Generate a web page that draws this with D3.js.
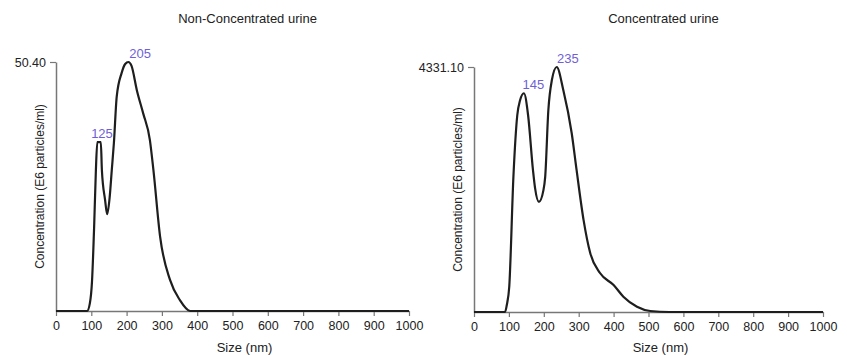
<!DOCTYPE html>
<html>
<head>
<meta charset="utf-8">
<script src="https://cdn.jsdelivr.net/npm/d3@7"></script>
<style>
  body { margin: 0; background: #fff; }
  text { font-family: "Liberation Sans", Arial, Helvetica, sans-serif; }
</style>
</head>
<body>
<div id="chart"></div>
<script>
// Data (size in nm, concentration in E6 particles/ml)
var titles = ["Non-Concentrated urine", "Concentrated urine"];
var yMax = [50.40, 4331.10];
var xTicks = [0, 100, 200, 300, 400, 500, 600, 700, 800, 900, 1000];

var nonConcSize = [0, 88, 96, 102, 108, 113, 117, 127, 130, 139, 145, 152, 158, 164, 172, 186, 196, 205, 214, 229, 247, 266, 276, 295, 323, 351, 380, 1000];
var nonConcValue = [0, 0, 1.6, 6, 17, 28.5, 34.2, 34.2, 28.5, 22.5, 19.6, 23, 28.5, 34, 43.4, 48.2, 50, 50.4, 49.6, 44.7, 40, 34.6, 28.5, 15, 6.3, 2.2, 0, 0];

var concSize = [0, 89, 94, 101, 113, 124, 132, 143, 155, 169, 175, 186, 199, 204, 213, 223, 237, 256, 280, 294, 314, 333, 361, 400, 428, 467, 505, 560, 1000];
var concValue = [0, 0, 124, 447, 2400, 3478, 3743, 3867, 3478, 2507, 2189, 1947, 2154, 2389, 3566, 4096, 4331.1, 3920, 3160, 2507, 1624, 1042, 689, 477, 270, 94, 18, 0, 0];

var nonConcPeaks = [125, 205];
var nonConcPeakValues = [34.2, 50.4];
var concPeaks = [145, 235];
var concPeakValues = [3867, 4331.1];

var width = 847, height = 355;

var svg = d3.select("#chart").append("svg")
  .attr("width", width)
  .attr("height", height);

// Panel layout (pixel boxes of each plot area)
var panels = [
  {left: 56, right: 409, top: 62, bottom: 311, size: nonConcSize, value: nonConcValue,
   peaks: nonConcPeaks, peakValues: nonConcPeakValues, peakDx: [-9, 1]},
  {left: 474, right: 823, top: 67, bottom: 312, size: concSize, value: concValue,
   peaks: concPeaks, peakValues: concPeakValues, peakDx: [-2, 1]}
];

panels.forEach(function(p, i) {
  var g = svg.append("g");

  var x = d3.scaleLinear().domain([0, 1000]).range([p.left, p.right]);
  var y = d3.scaleLinear().domain([0, yMax[i]]).range([p.bottom, p.top]);

  // Title
  g.append("text")
    .attr("x", (p.left + p.right) / 2 + 15)
    .attr("y", 23)
    .attr("text-anchor", "middle")
    .style("font-size", "13px")
    .style("fill", "#222")
    .text(titles[i]);

  // X axis
  var xAxis = g.append("g")
    .attr("transform", "translate(0," + p.bottom + ")")
    .call(d3.axisBottom(x).tickValues(xTicks).tickFormat(d3.format("d")).tickSize(5).tickSizeOuter(0).tickPadding(5));

  // Y axis, only the max tick
  var yAxis = g.append("g")
    .attr("transform", "translate(" + p.left + ",0)")
    .call(d3.axisLeft(y).tickValues([yMax[i]]).tickFormat(d3.format(".2f")).tickSize(6).tickSizeOuter(0).tickPadding(4));

  [xAxis, yAxis].forEach(function(a) {
    a.attr("font-family", null);
    a.select(".domain").attr("stroke", "#777").attr("stroke-width", 1.5);
    a.selectAll(".tick line").attr("stroke", "#777").attr("stroke-width", 1.2);
    a.selectAll(".tick text").style("font-size", "12.5px").style("fill", "#222");
  });

  // Axis labels
  g.append("text")
    .attr("x", (p.left + p.right) / 2 + 12)
    .attr("y", 352)
    .attr("text-anchor", "middle")
    .style("font-size", "13px")
    .style("fill", "#222")
    .text("Size (nm)");

  g.append("text")
    .attr("transform", "translate(" + (p.left - 12) + "," + (p.top + p.bottom) / 2 + ") rotate(-90)")
    .attr("text-anchor", "middle")
    .style("font-size", "12px")
    .style("fill", "#222")
    .text("Concentration (E6 particles/ml)");

  // Distribution curve
  var line = d3.line()
    .x(function(d, k) { return x(p.size[k]); })
    .y(function(d) { return y(d); })
    .curve(d3.curveMonotoneX);

  g.append("path")
    .datum(p.value)
    .attr("d", line)
    .attr("fill", "none")
    .attr("stroke", "#1e1e1e")
    .attr("stroke-width", 2.2)
    .attr("stroke-linejoin", "round");

  // Peak labels
  g.selectAll(".peak")
    .data(p.peaks)
    .enter().append("text")
      .attr("class", "peak")
      .attr("x", function(d, k) { return x(d) + p.peakDx[k]; })
      .attr("y", function(d, k) { return y(p.peakValues[k]) - 4; })
      .style("font-size", "13px")
      .style("fill", "#6f5fd6")
      .text(function(d) { return d; });
});
</script>
</body>
</html>
